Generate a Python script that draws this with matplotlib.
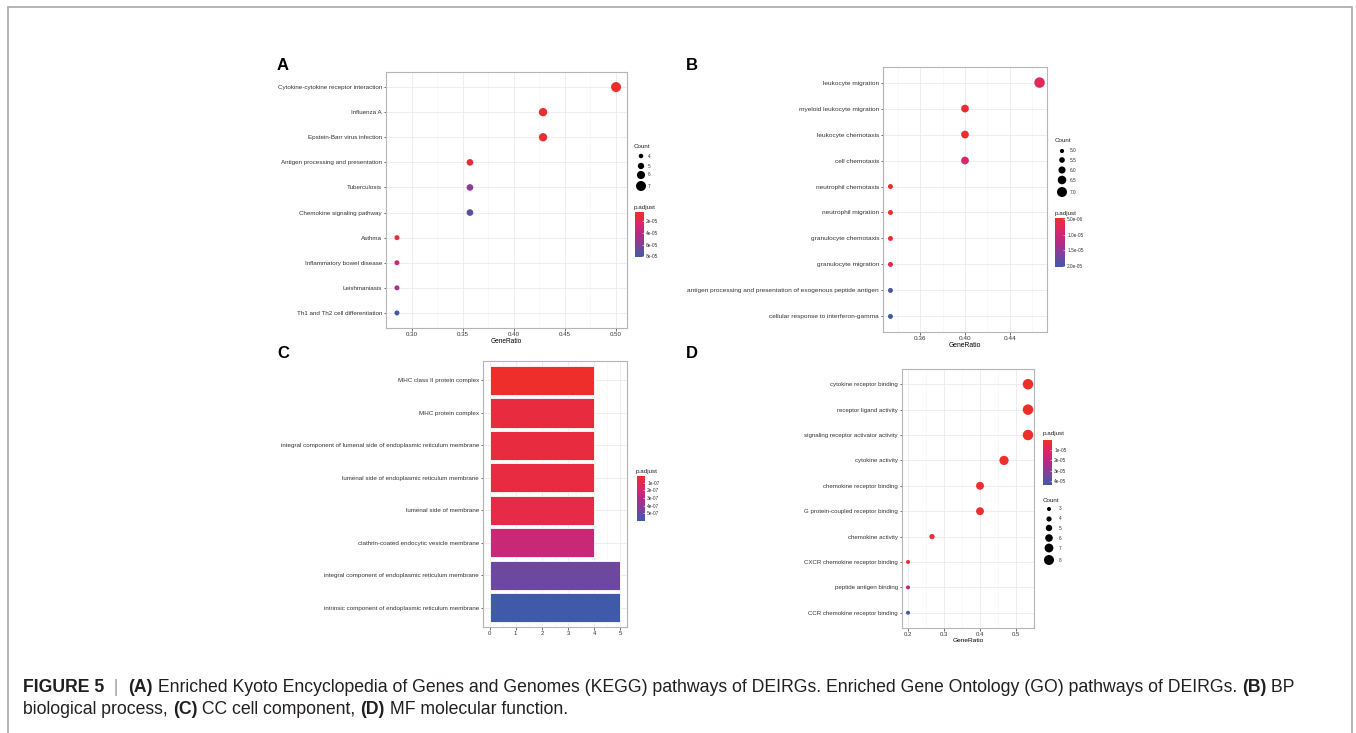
import matplotlib
matplotlib.use('Agg')
import matplotlib.pyplot as plt
import matplotlib.colors as mcolors
import matplotlib.cm as cm
from matplotlib.ticker import AutoMinorLocator
import numpy as np

plt.rcParams['font.family'] = ['Liberation Sans', 'DejaVu Sans']

W, H = 1356, 733

# ---- A: KEGG ----
kegg_terms = ['Cytokine-cytokine receptor interaction', 'Influenza A', 'Epstein-Barr virus infection',
              'Antigen processing and presentation', 'Tuberculosis', 'Chemokine signaling pathway',
              'Asthma', 'Inflammatory bowel disease', 'Leishmaniasis', 'Th1 and Th2 cell differentiation']
kegg_ratio = [0.5, 0.4286, 0.4286, 0.3571, 0.3571, 0.3571, 0.2857, 0.2857, 0.2857, 0.2857]
kegg_count = [7, 6, 6, 5, 5, 5, 4, 4, 4, 4]
kegg_padj = [4.6e-06, 6e-06, 8e-06, 1.0e-05, 5.6e-05, 7.2e-05, 9e-06, 3.4e-05, 4.8e-05, 8.1e-05]
kegg_xticks = [0.30, 0.35, 0.40, 0.45, 0.50]
kegg_cb_ticks = [2e-05, 4e-05, 6e-05, 8e-05]
kegg_cb_labels = ['2e-05', '4e-05', '6e-05', '8e-05']
kegg_size_breaks = [4, 5, 6, 7]

# ---- B: GO BP ----
bp_terms = ['leukocyte migration', 'myeloid leukocyte migration', 'leukocyte chemotaxis', 'cell chemotaxis',
            'neutrophil chemotaxis', 'neutrophil migration', 'granulocyte chemotaxis', 'granulocyte migration',
            'antigen processing and presentation of exogenous peptide antigen',
            'cellular response to interferon-gamma']
bp_ratio = [0.4667, 0.4, 0.4, 0.4, 0.3333, 0.3333, 0.3333, 0.3333, 0.3333, 0.3333]
bp_count = [7, 6, 6, 6, 5, 5, 5, 5, 5, 5]
bp_padj = [7.6e-06, 5.2e-06, 5.3e-06, 9.5e-06, 4.8e-06, 5.0e-06, 5.4e-06, 7.2e-06, 1.95e-05, 2.02e-05]
bp_xticks = [0.36, 0.40, 0.44]
bp_cb_ticks = [5e-06, 1e-05, 1.5e-05, 2e-05]
bp_cb_labels = ['5.0e-06', '1.0e-05', '1.5e-05', '2.0e-05']
bp_size_breaks = [5.0, 5.5, 6.0, 6.5, 7.0]

# ---- C: GO CC ----
cc_terms = ['MHC class II protein complex', 'MHC protein complex',
            'integral component of lumenal side of endoplasmic reticulum membrane',
            'lumenal side of endoplasmic reticulum membrane', 'lumenal side of membrane',
            'clathrin-coated endocytic vesicle membrane',
            'integral component of endoplasmic reticulum membrane',
            'intrinsic component of endoplasmic reticulum membrane']
cc_count = [4, 4, 4, 4, 4, 4, 5, 5]
cc_padj = [1e-08, 6e-08, 6e-08, 6.5e-08, 8e-08, 2.3e-07, 4.9e-07, 6.0e-07]
cc_xticks = [0, 1, 2, 3, 4, 5]
cc_cb_ticks = [1e-07, 2e-07, 3e-07, 4e-07, 5e-07]
cc_cb_labels = ['1e-07', '2e-07', '3e-07', '4e-07', '5e-07']

# ---- D: GO MF ----
mf_terms = ['cytokine receptor binding', 'receptor ligand activity', 'signaling receptor activator activity',
            'cytokine activity', 'chemokine receptor binding', 'G protein-coupled receptor binding',
            'chemokine activity', 'CXCR chemokine receptor binding', 'peptide antigen binding',
            'CCR chemokine receptor binding']
mf_ratio = [0.5333, 0.5333, 0.5333, 0.4667, 0.4, 0.4, 0.2667, 0.2, 0.2, 0.2]
mf_count = [8, 8, 8, 7, 6, 6, 4, 3, 3, 3]
mf_padj = [3e-07, 4e-07, 5e-07, 8e-07, 1.2e-06, 1.5e-06, 2.2e-06, 2.5e-06, 2.2e-05, 4.4e-05]
mf_xticks = [0.2, 0.3, 0.4, 0.5]
mf_cb_ticks = [1e-05, 2e-05, 3e-05, 4e-05]
mf_cb_labels = ['1e-05', '2e-05', '3e-05', '4e-05']
mf_size_breaks = [3, 4, 5, 6, 7, 8]

cmap = mcolors.LinearSegmentedColormap.from_list(
    'padj', ['#EE2E2A', '#DC2667', '#B62A85', '#7E419E', '#3F5AA8'])

fig = plt.figure(figsize=(W / 100, H / 100), dpi=100)
fig.patch.set_facecolor('white')


def px_rect(x0, y0, x1, y1):
    return [x0 / W, 1 - y1 / H, (x1 - x0) / W, (y1 - y0) / H]


def style_axes(ax, fs):
    for sp in ax.spines.values():
        sp.set_color('#b5b5b5')
        sp.set_linewidth(0.8)
    ax.tick_params(length=1.8, width=0.5, color='#333333', pad=1, labelsize=fs, labelcolor='#333333')
    ax.xaxis.set_minor_locator(AutoMinorLocator(2))
    ax.tick_params(which='minor', length=0)
    ax.grid(True, which='major', color='#ebebeb', lw=0.6)
    ax.grid(True, which='minor', axis='x', color='#f3f3f3', lw=0.4)
    ax.set_axisbelow(True)


def diam_px(c, cmin, cmax, dmin, dmax):
    return dmin + (np.asarray(c, float) - cmin) / (cmax - cmin) * (dmax - dmin)


def dot_panel(rect, terms, ratio, count, padj, xticks, fs, dmin, dmax):
    ax = fig.add_axes(rect)
    norm = mcolors.Normalize(min(padj), max(padj))
    y = np.arange(len(terms))
    d = diam_px(count, min(count), max(count), dmin, dmax)
    ax.scatter(ratio, y, s=(d * 0.72) ** 2, c=padj, cmap=cmap, norm=norm, edgecolors='none', zorder=3)
    lo, hi = min(ratio), max(ratio)
    pad = 0.05 * (hi - lo)
    ax.set_xlim(lo - pad, hi + pad)
    ax.set_ylim(len(terms) - 0.4, -0.6)
    ax.set_yticks(y)
    ax.set_yticklabels(terms)
    ax.set_xticks(xticks)
    ax.set_xlabel('GeneRatio', fontsize=fs + 0.2, labelpad=1)
    style_axes(ax, fs)
    ax.tick_params(axis='x', labelsize=fs - 0.1)
    return norm


def colorbar(x0, y0, x1, y1, norm, ticks, labels):
    cax = fig.add_axes(px_rect(x0, y0, x1, y1))
    cb = fig.colorbar(cm.ScalarMappable(norm=norm, cmap=cmap), cax=cax)
    cb.outline.set_visible(False)
    cax.invert_yaxis()
    cb.set_ticks(ticks)
    cb.set_ticklabels(labels)
    cax.tick_params(length=1.5, width=0.4, color='white', direction='in', labelsize=3.4,
                    pad=1.5, labelcolor='#333333')


# overlay in pixel coordinates
ov = fig.add_axes([0, 0, 1, 1], zorder=5)
ov.set_xlim(0, W)
ov.set_ylim(H, 0)
ov.axis('off')


def size_legend(x_title, y_title, x_dot, ys, breaks, cmin, cmax, dmin, dmax, x_lab):
    ov.text(x_title, y_title, 'Count', fontsize=4.5, va='center', ha='left', color='#222222')
    d = diam_px(breaks, cmin, cmax, dmin, dmax)
    ov.scatter([x_dot] * len(breaks), ys, s=(d * 0.72) ** 2, color='black', edgecolors='none')
    for yy, b in zip(ys, breaks):
        lab = f'{b:.1f}' if isinstance(b, float) else str(b)
        ov.text(x_lab, yy, lab, fontsize=3.4, va='center', ha='left', color='#333333')


# ---- Panel A ----
normA = dot_panel(px_rect(386, 72, 627, 328), kegg_terms, kegg_ratio, kegg_count, kegg_padj,
                  kegg_xticks, 4.5, 5, 10)
ov.text(277, 70, 'A', fontsize=12, fontweight='bold', ha='left', va='baseline')
size_legend(634, 147, 641, [156, 166, 175, 186], kegg_size_breaks, 4, 7, 4.5, 10, 648)
ov.text(634, 207, 'p.adjust', fontsize=4.5, va='center', ha='left', color='#222222')
colorbar(635, 212, 644, 257, normA, kegg_cb_ticks, kegg_cb_labels)

# ---- Panel B ----
normB = dot_panel(px_rect(883, 67, 1047, 332), bp_terms, bp_ratio, bp_count, bp_padj,
                  bp_xticks, 4.65, 5, 10.5)
ov.text(686, 70, 'B', fontsize=12, fontweight='bold', ha='left', va='baseline')
size_legend(1055, 141, 1062, [151, 160, 170, 180, 192], bp_size_breaks, 5, 7, 4.2, 10, 1070)
ov.text(1055, 214, 'p.adjust', fontsize=4.5, va='center', ha='left', color='#222222')
colorbar(1055, 218, 1065, 267, normB, bp_cb_ticks, bp_cb_labels)

# ---- Panel C ----
axC = fig.add_axes(px_rect(483, 361, 627, 627))
normC = mcolors.Normalize(min(cc_padj), max(cc_padj))
yc = np.arange(len(cc_terms))
axC.barh(yc, cc_count, height=0.9, color=cmap(normC(np.array(cc_padj))), edgecolor='white',
         linewidth=0.6, zorder=3)
axC.set_xlim(-0.25, 5.25)
axC.set_ylim(len(cc_terms) - 0.4, -0.6)
axC.set_yticks(yc)
axC.set_yticklabels(cc_terms)
axC.set_xticks(cc_xticks)
style_axes(axC, 4.5)
axC.tick_params(axis='x', labelsize=4.3)
ov.text(277, 358, 'C', fontsize=12, fontweight='bold', ha='left', va='baseline')
ov.text(636, 471, 'p.adjust', fontsize=4.5, va='center', ha='left', color='#222222')
colorbar(637, 476, 645, 521, normC, cc_cb_ticks, cc_cb_labels)

# ---- Panel D ----
normD = dot_panel(px_rect(902, 369, 1034, 628), mf_terms, mf_ratio, mf_count, mf_padj,
                  mf_xticks, 4.45, 4, 10.5)
ov.text(686, 358, 'D', fontsize=12, fontweight='bold', ha='left', va='baseline')
ov.text(1043, 434, 'p.adjust', fontsize=4.5, va='center', ha='left', color='#222222')
colorbar(1043, 440, 1052, 485, normD, mf_cb_ticks, mf_cb_labels)
size_legend(1043, 500, 1049, [509, 519, 528, 538, 548, 560], mf_size_breaks, 3, 8, 4, 10, 1059)

# ---- frame ----
ov.plot([8, 8, 1352, 1352], [H, 7, 7, H], color='#a8a8a8', lw=1.2, solid_joinstyle='miter')

# ---- caption ----
renderer = fig.canvas.get_renderer()
cap_fs = 12.7
line1 = [('FIGURE 5', 'bold', '#231f20'), ('  |  ', 'normal', '#9a9a9a'), ('(A)', 'bold', '#231f20'),
         (' Enriched Kyoto Encyclopedia of Genes and Genomes (KEGG) pathways of DEIRGs. '
          'Enriched Gene Ontology (GO) pathways of DEIRGs. ', 'normal', '#231f20'),
         ('(B)', 'bold', '#231f20'), (' BP', 'normal', '#231f20')]
line2 = [('biological process, ', 'normal', '#231f20'), ('(C)', 'bold', '#231f20'),
         (' CC cell component, ', 'normal', '#231f20'), ('(D)', 'bold', '#231f20'),
         (' MF molecular function.', 'normal', '#231f20')]
for pieces, yb in [(line1, 692), (line2, 714)]:
    x = 23
    for s, wgt, col in pieces:
        t = ov.text(x, yb, s, fontsize=cap_fs, fontweight=wgt, color=col, ha='left', va='baseline')
        x += t.get_window_extent(renderer).width

fig.savefig('out.png', dpi=100, facecolor='white')
